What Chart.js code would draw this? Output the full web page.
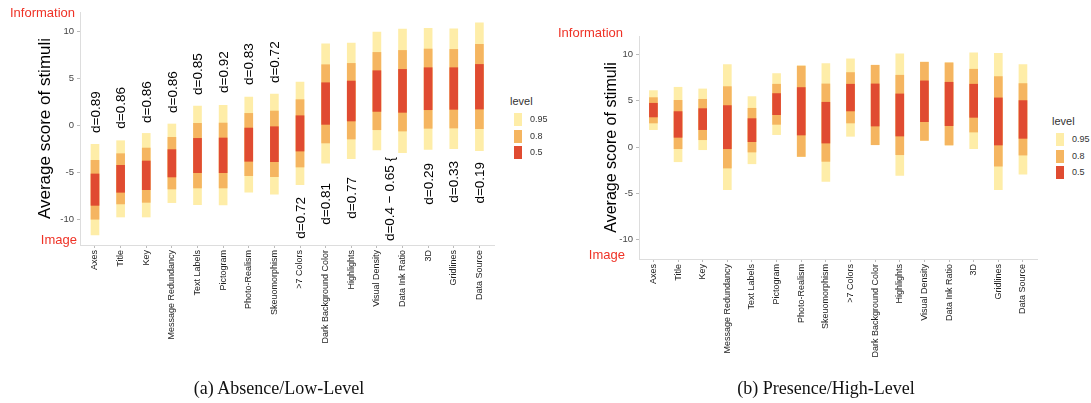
<!DOCTYPE html>
<html>
	<head>
		<meta charset="utf-8">
		<title></title>
		<style type="text/css">
			body{margin: 0;background: #fff;width: 1091px;height: 403px;overflow: hidden;position: relative;font-family: "Liberation Sans", Arial, sans-serif;}
			canvas{position: absolute;top: 0;}
			.side{position: absolute;color: #ef3226;font-size: 13px;line-height: 13px;white-space: nowrap;}
			.legend{position: absolute;color: #333;}
			.legend .ttl{font-size: 11px;line-height: 11px;margin-bottom: 6px;}
			.legend .row{height: 16.5px;position: relative;}
			.legend .box{position: absolute;left: 4px;top: 0;width: 8px;height: 13px;}
			.legend .lab{position: absolute;left: 20px;top: 1px;font-size: 9px;line-height: 11px;}
			.cap{position: absolute;top: 378px;font-family: "Liberation Serif", "Times New Roman", serif;font-size: 18px;line-height: 20px;white-space: nowrap;transform: translateX(-50%);color: #111;}
		</style>
	</head>
	<body>
		<canvas id="chart-absence" width="500" height="400" style="left:0px;"></canvas>
		<canvas id="chart-presence" width="500" height="400" style="left:540px;"></canvas>

		<div class="side" style="right:1016px;top:6px;">Information</div>
		<div class="side" style="right:1014px;top:233px;">Image</div>
		<div class="side" style="right:468px;top:26px;">Information</div>
		<div class="side" style="right:466px;top:248px;">Image</div>

		<div class="legend" id="legend-a" style="left:510px;top:96px;"></div>
		<div class="legend" id="legend-b" style="left:1052px;top:116px;"></div>

		<div class="cap" style="left:279px;">(a) Absence/Low-Level</div>
		<div class="cap" style="left:826px;">(b) Presence/High-Level</div>

		<script src="https://cdn.jsdelivr.net/npm/chart.js@4.4.0/dist/chart.umd.min.js"></script>
		<script type="text/javascript">
			// categories and ticks
			const categories = ['Axes','Title','Key','Message Redundancy','Text Labels','Pictogram','Photo-Realism','Skeuomorphism','>7 Colors','Dark Background Color','Highlights','Visual Density','Data Ink Ratio','3D','Gridlines','Data Source'];
			const yTicks = [-10, -5, 0, 5, 10];
			const levels = ['0.95', '0.8', '0.5'];

			// (a) absence / low-level : interval bounds
			const absLo95 = [-11.63,-9.72,-9.72,-8.19,-8.40,-8.44,-7.09,-7.30,-6.28,-4.00,-3.51,-2.59,-2.87,-2.52,-2.45,-2.66];
			const absLo80 = [-9.96,-8.33,-8.16,-6.74,-6.63,-6.63,-5.32,-5.43,-4.40,-1.84,-1.42,-0.43,-0.57,-0.28,-0.25,-0.32];
			const absLo50 = [-8.48,-7.09,-6.81,-5.46,-5.00,-5.00,-3.79,-3.83,-2.70,0.14,0.50,1.52,1.42,1.70,1.74,1.77];
			const absHi50 = [-5.14,-4.22,-3.76,-2.55,-1.35,-1.31,-0.25,-0.11,1.06,4.57,4.75,5.85,5.99,6.17,6.17,6.52];
			const absHi80 = [-3.69,-2.98,-2.38,-1.24,0.25,0.28,1.31,1.56,2.77,6.49,6.63,7.80,8.01,8.16,8.12,8.65];
			const absHi95 = [-1.99,-1.60,-0.82,0.18,2.09,2.16,3.05,3.37,4.65,8.72,8.79,9.96,10.28,10.35,10.32,10.96];

			// (b) presence / high-level
			const preLo95 = [1.88,-1.59,-0.29,-4.62,-1.81,1.34,-1.05,-3.72,1.16,0.25,-3.07,0.72,0.22,-0.18,-4.62,-2.92];
			const preLo80 = [2.60,-0.18,0.79,-2.27,-0.54,2.45,-1.01,-1.55,2.60,0.25,-0.83,0.72,0.22,1.62,-2.06,-0.87];
			const preLo50 = [3.25,1.05,1.88,-0.18,0.58,3.50,1.30,0.43,3.90,2.27,1.19,2.74,2.31,3.21,0.22,0.94];
			const preHi50 = [4.73,3.83,4.15,4.48,3.07,5.78,6.43,4.84,6.79,6.82,5.74,7.15,7.00,6.79,5.31,5.02];
			const preHi80 = [5.34,5.05,5.16,6.53,4.19,6.79,8.74,6.82,8.05,8.84,7.76,9.17,9.10,8.41,7.62,6.86];
			const preHi95 = [6.10,6.46,6.28,8.92,5.45,7.94,8.78,9.03,9.53,8.84,10.07,9.17,9.10,10.18,10.14,8.92];

			// effect size notes on panel (a)
			const dTexts = ['d=0.89','d=0.86','d=0.86','d=0.86','d=0.85','d=0.92','d=0.83','d=0.72','d=0.72','d=0.81','d=0.77','d=0.4 \u2212 0.65 {','d=0.29','d=0.33','d=0.19'];
			const dAt = [0,1,2,3,4,5,6,7,8,9,10,11.5,13,14,15];
			const dValue = [-0.78,-0.32,0.29,1.35,3.27,3.48,4.33,4.54,-7.59,-6.10,-5.46,-3.33,-3.97,-3.76,-3.86];
			const dAbove = [1,1,1,1,1,1,1,1,0,0,0,0,0,0,0];

			const colors = {'0.95': '#feeda8', '0.8': '#f5b560', '0.5': '#e04b31'};

			function pairs(lo, hi){
				let out = [];
				for(let i = 0; i < lo.length; i++){
					out.push({x: i, y: [lo[i], hi[i]]});
				}
				return out;
			}

			// text notes drawn through the chart scales
			const dPlugin = {
				id: 'dnotes',
				afterDatasetsDraw(chart, args, opts){
					if(!opts.show) return;
					const ctx = chart.ctx;
					ctx.save();
					ctx.font = '13.5px "Liberation Sans", Arial, sans-serif';
					ctx.fillStyle = '#000';
					ctx.textBaseline = 'middle';
					for(let i = 0; i < dTexts.length; i++){
						let px = chart.scales.x.getPixelForValue(dAt[i]) + 1;
						let py = chart.scales.y.getPixelForValue(dValue[i]);
						ctx.save();
						ctx.translate(px, py);
						ctx.rotate(-Math.PI / 2);
						ctx.textAlign = dAbove[i] ? 'left' : 'right';
						ctx.fillText(dTexts[i], 0, 0);
						ctx.restore();
					}
					ctx.restore();
				}
			};

			function makeChart(id, sets, opt){
				return new Chart(document.getElementById(id), {
					type: 'bar',
					data: {
						datasets: [
							{label: '0.5', data: pairs(sets[2], sets[3]), backgroundColor: colors['0.5']},
							{label: '0.8', data: pairs(sets[1], sets[4]), backgroundColor: colors['0.8']},
							{label: '0.95', data: pairs(sets[0], sets[5]), backgroundColor: colors['0.95']}
						]
					},
					options: {
						responsive: false,
						animation: false,
						layout: {padding: {top: opt.top, right: opt.right, left: 0, bottom: 0}},
						datasets: {bar: {grouped: false, barThickness: 8, borderWidth: 0}},
						plugins: {
							legend: {display: false},
							tooltip: {enabled: false},
							dnotes: {show: opt.notes}
						},
						scales: {
							x: {
								type: 'linear',
								offset: false,
								min: -0.585,
								max: 15.57,
								afterBuildTicks: (s) => { s.ticks = categories.map((c, i) => ({value: i})); },
								afterFit: (s) => { s.height = opt.xh; s.paddingLeft = 0; s.paddingRight = 0; },
								grid: {drawOnChartArea: false, offset: false, color: '#bbb', tickLength: 3},
								border: {color: '#ddd'},
								ticks: {
									autoSkip: false,
									minRotation: 90,
									maxRotation: 90,
									padding: 2,
									color: '#222',
									font: {family: '"Liberation Sans", Arial, sans-serif', size: 9},
									callback: (v) => categories[v]
								}
							},
							y: {
								min: opt.ymin,
								max: opt.ymax,
								afterBuildTicks: (s) => { s.ticks = yTicks.map(v => ({value: v})); },
								afterFit: (s) => { s.width = opt.yw; },
								grid: {drawOnChartArea: false, color: '#bbb', tickLength: 3},
								border: {color: '#ddd'},
								ticks: {
									padding: 3,
									color: '#444',
									font: {family: '"Liberation Sans", Arial, sans-serif', size: 9.5}
								},
								title: {
									display: true,
									text: 'Average score of stimuli',
									color: '#000',
									padding: {top: opt.tp, bottom: 0},
									font: {family: '"Liberation Sans", Arial, sans-serif', size: opt.ts}
								}
							}
						}
					},
					plugins: [dPlugin]
				});
			}

			makeChart('chart-absence', [absLo95, absLo80, absLo50, absHi50, absHi80, absHi95],
				{top: 12, right: 6, xh: 155, yw: 80, tp: 35, ts: 17, ymin: -12.7, ymax: 12.1, notes: true});
			makeChart('chart-presence', [preLo95, preLo80, preLo50, preHi50, preHi80, preHi95],
				{top: 36, right: 3, xh: 141, yw: 99, tp: 62, ts: 16, ymin: -12.1, ymax: 12.0, notes: false});

			// legends
			for(let id of ['legend-a', 'legend-b']){
				let el = document.getElementById(id);
				let html = '<div class="ttl">level</div>';
				for(let lv of levels){
					html += '<div class="row"><span class="box" style="background:' + colors[lv] + '"></span><span class="lab">' + lv + '</span></div>';
				}
				el.innerHTML = html;
			}
		</script>
	</body>
</html>
